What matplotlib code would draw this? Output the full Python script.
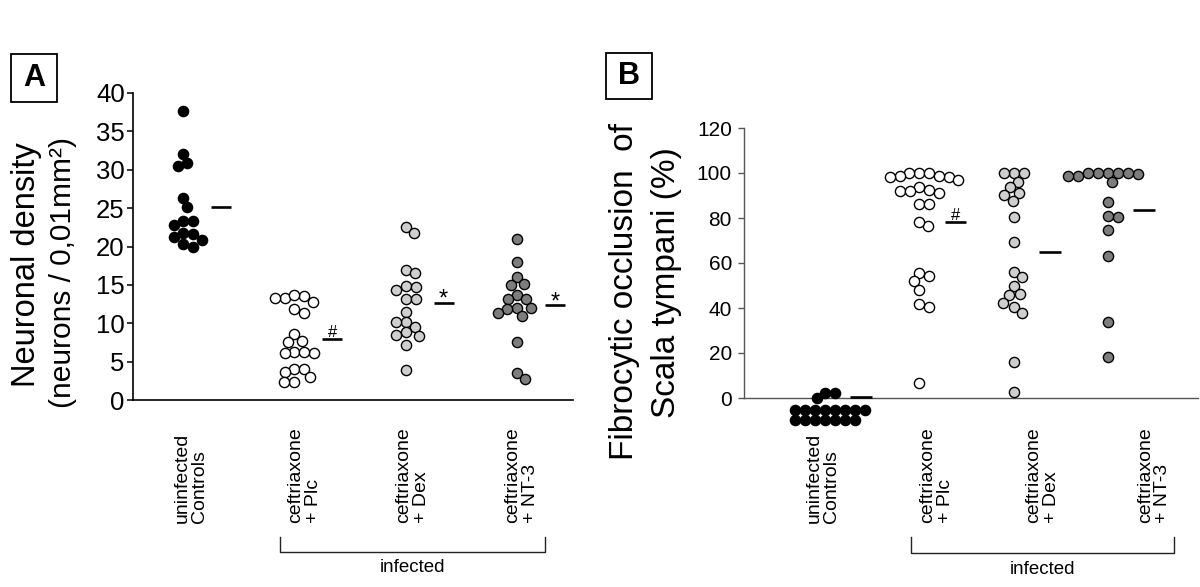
# Two-panel dot plot: neuronal density (A) and fibrocytic occlusion (B)
import matplotlib
matplotlib.use('Agg')
import matplotlib.pyplot as plt
from matplotlib import font_manager
from matplotlib.lines import Line2D
from matplotlib.patches import Rectangle
import numpy as np

# Initialize the data
groups = ['uninfected\nControls', 'ceftriaxone\n+ Plc', 'ceftriaxone\n+ Dex', 'ceftriaxone\n+ NT-3']
face_colors = ['#000000', '#ffffff', '#cfcfcf', '#7d7d7d']

# Panel A: neurons / 0,01 mm2
ctrl_a = [37.6, 32.1, 30.5, 30.9, 26.3, 25.1, 23.3, 23.3, 22.8, 21.7, 21.6, 20.9, 21.2, 20.3, 19.9]
plc_a = [13.5, 13.3, 13.7, 13.3, 12.8, 11.8, 11.4, 8.6, 7.7, 7.6, 6.2, 6.1, 6.1, 6.2,
         4.1, 4.1, 3.0, 3.6, 2.3, 2.3]
dex_a = [22.5, 21.8, 17.0, 16.6, 14.8, 14.3, 14.7, 13.1, 13.1, 11.5, 10.2, 10.2, 9.5,
         8.8, 8.5, 8.3, 7.2, 3.9]
nt3_a = [21.0, 18.0, 16.0, 15.0, 15.1, 13.7, 13.1, 13.1, 12.0, 11.8, 12.0, 11.3, 10.9,
         7.6, 3.5, 2.7]
means_a = [25.2, 8.0, 12.7, 12.4]
marks_a = ['', '#', '*', '*']

# Panel B: fibrocytic occlusion of scala tympani (%)
ctrl_b = [2.4, 2.4, 0.0] + [-5.2] * 8 + [-9.8] * 7
plc_b = [100, 98.3, 96.9, 98.8, 99.8, 98.8, 98.1, 100, 92.6, 91.9, 93.7, 92.2, 91.2,
         86.4, 86.4, 76.3, 78.2, 55.6, 54.3, 51.8, 48.0, 41.9, 40.3, 6.5]
dex_b = [100, 100, 100, 96.1, 93.6, 91.3, 90.2, 87.7, 80.3, 69.5, 56.1, 53.6, 49.8,
         46.2, 45.8, 42.4, 40.6, 37.9, 15.9, 2.5]
nt3_b = [100, 100, 100, 98.8, 98.8, 99.5, 100, 100, 96.0, 87.0, 80.5, 81.0, 74.5,
         63.2, 34.0, 18.3]
means_b = [0.5, 78.3, 65.1, 83.5]
marks_b = ['', '#', '', '']

# Fonts
names = {f.name for f in font_manager.fontManager.ttflist}
plt.rcParams['font.family'] = ['Liberation Sans', 'DejaVu Sans']
narrow = 'Liberation Sans Narrow' if 'Liberation Sans Narrow' in names else 'Liberation Sans'
b_tick_size = 17 if narrow != 'Liberation Sans' else 15

W, H = 1200, 587
fig = plt.figure(figsize=(W / 100, H / 100), dpi=100)


def fx(px):
    return px / W


def fy(py):
    return 1 - py / H


def swarm(ax, x0, vals, diam):
    """Beeswarm offsets (pixels) so circles of diameter diam do not overlap"""
    pts = ax.transData.transform(np.column_stack([np.full(len(vals), x0), vals]))
    ys = pts[:, 1]
    offs = np.zeros(len(vals))
    placed = []
    for i in np.argsort(-ys, kind='stable'):
        y = ys[i]
        cands = [0.0]
        for px, py in placed:
            dy = abs(py - y)
            if dy < diam:
                dx = np.sqrt(diam ** 2 - dy ** 2)
                cands += [px + dx, px - dx]
        cands.sort(key=abs)
        for c in cands:
            if all((c - px) ** 2 + (y - py) ** 2 >= diam ** 2 - 1e-6 for px, py in placed):
                offs[i] = c
                break
        placed.append((offs[i], y))
    back = ax.transData.inverted().transform(np.column_stack([pts[:, 0] + offs, ys]))
    return back[:, 0]


def draw_panel(ax, data, means, marks, mean_span, diam):
    for i, vals in enumerate(data):
        xs = swarm(ax, i, vals, diam)
        ax.scatter(xs, vals, s=54, c=face_colors[i], edgecolors='black',
                   linewidths=1.0, zorder=3, clip_on=False)
        x1, x2 = i + mean_span[0], i + mean_span[1]
        ax.plot([x1, x2], [means[i], means[i]], color='black', lw=1.9,
                solid_capstyle='butt', clip_on=False, zorder=3)
        if marks[i] == '*':
            ax.annotate('*', xy=((x1 + x2) / 2, means[i]), xytext=(0, -2.5),
                        textcoords='offset points', ha='center', va='baseline',
                        fontsize=17, zorder=4)
        elif marks[i]:
            ax.annotate(marks[i], xy=((x1 + x2) / 2, means[i]), xytext=(0, 1.5),
                        textcoords='offset points', ha='center', va='baseline',
                        fontsize=12, zorder=4)


def bracket(x1, x2, ytop, ybot, label_y):
    xs = [fx(x1), fx(x1), fx(x2), fx(x2)]
    ys = [fy(ytop), fy(ybot), fy(ybot), fy(ytop)]
    fig.add_artist(Line2D(xs, ys, transform=fig.transFigure, color='#222222', lw=1.0))
    fig.text(fx((x1 + x2) / 2), fy(label_y), 'infected', ha='center', va='center',
             fontsize=13.5)


def panel_box(x1, y1, x2, y2, letter):
    fig.add_artist(Rectangle((fx(x1), fy(y2)), fx(x2) - fx(x1), fy(y1) - fy(y2),
                             transform=fig.transFigure, fill=False,
                             edgecolor='black', lw=1.3))
    fig.text(fx((x1 + x2) / 2), fy((y1 + y2) / 2), letter, ha='center', va='center',
             fontsize=22, fontweight='bold')


# Panel A
ax_a = fig.add_axes([fx(133), fy(400), fx(573) - fx(133), fy(93) - fy(400)])
ax_a.set_xlim(-0.452, 3.504)
ax_a.set_ylim(0, 40)
ax_a.set_yticks(range(0, 41, 5))
ax_a.set_xticks([])
for s in ['top', 'right']:
    ax_a.spines[s].set_visible(False)
for s in ['left', 'bottom']:
    ax_a.spines[s].set_linewidth(1.2)
ax_a.tick_params(axis='y', labelsize=18.5, length=4, width=1.1, pad=2)
draw_panel(ax_a, [ctrl_a, plc_a, dex_a, nt3_a], means_a, marks_a, (0.25, 0.43), 10)

# Panel B
ax_b = fig.add_axes([fx(744.5), fy(398), fx(1198) - fx(744.5), fy(128) - fy(398)])
ax_b.set_xlim(-0.854, 3.955)
ax_b.set_ylim(0, 120)
ax_b.set_yticks(range(0, 121, 20))
ax_b.set_xticks([])
for s in ['top', 'right']:
    ax_b.spines[s].set_visible(False)
for s in ['left', 'bottom']:
    ax_b.spines[s].set_linewidth(1.0)
    ax_b.spines[s].set_color('#555555')
ax_b.tick_params(axis='y', length=4, width=1.0, color='#555555', pad=5)
for lab in ax_b.get_yticklabels():
    lab.set_fontfamily(narrow)
    lab.set_fontsize(b_tick_size)
draw_panel(ax_b, [ctrl_b, plc_b, dex_b, nt3_b], means_b, marks_b, (0.27, 0.5), 10)

# Category labels under both panels
label_pos_a = [0.07, 1.09, 2.06, 3.04]
label_pos_b = [-0.02, 1.18, 2.31, 3.49]
for ax, pos in [(ax_a, label_pos_a), (ax_b, label_pos_b)]:
    box = ax.get_position()
    ylab = (fy(523) - box.y0) / box.height
    for p, g in zip(pos, groups):
        ax.text(p, ylab, g, transform=ax.get_xaxis_transform(), rotation=90,
                ha='center', va='bottom', multialignment='left', fontsize=14,
                linespacing=1.05, clip_on=False)

# Y axis titles
fig.text(fx(26.4), fy(265), 'Neuronal density', rotation=90, ha='center', va='center',
         fontsize=23.5)
fig.text(fx(63.4), fy(273), '(neurons / 0,01mm²)', rotation=90, ha='center', va='center',
         fontsize=21.5)
fig.text(fx(624.5), fy(291.5), 'Fibrocytic occlusion  of', rotation=90, ha='center',
         va='center', fontsize=24)
fig.text(fx(666.5), fy(282.5), 'Scala tympani (%)', rotation=90, ha='center',
         va='center', fontsize=24)

# Brackets for the infected groups
bracket(280, 545, 537, 552, 567)
bracket(911, 1174, 537, 553, 570)

# Panel letters
panel_box(11, 54, 57, 102, 'A')
panel_box(606, 53, 652, 99, 'B')

fig.savefig('out.png', dpi=100)
